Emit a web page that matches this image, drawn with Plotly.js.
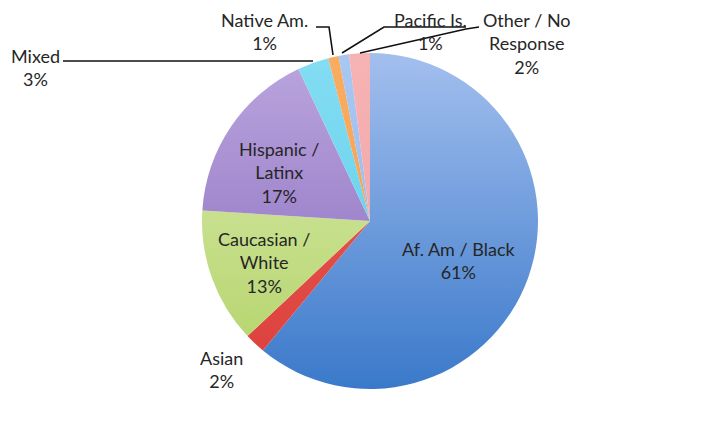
<!DOCTYPE html>
<html>
<head>
<meta charset="utf-8">
<script src="https://cdn.plot.ly/plotly-3.0.1.min.js"></script>
<style>
  html, body { margin: 0; padding: 0; background: #ffffff; }
  #chart { width: 717px; height: 424px; }
</style>
</head>
<body>
<div id="chart"></div>
<script>
// ---- data ----
var categories = ['Af. Am / Black', 'Asian', 'Caucasian / White', 'Hispanic / Latinx', 'Mixed', 'Native Am.', 'Pacific Is.', 'Other / No Response'];
var labelLines = ['Af. Am / Black', 'Asian', 'Caucasian /<br>White', 'Hispanic /<br>Latinx', 'Mixed', 'Native Am.', 'Pacific Is.', 'Other / No<br>Response'];
var percents = [61, 2, 13, 17, 3, 1, 1, 2];

// ---- styles ----
var sliceColors = ['#6d9de0', '#e24c46', '#c9e190', '#a088cf', '#6ed6f0', '#f8a65a', '#a4c3f1', '#f5aeb0'];
var gradTop     = ['#a3bfee', '#ea625c', '#dcedb3', '#bba6de', '#84ddf3', '#f9ad62', '#a9c7f2', '#f6b3b4'];
var gradBottom  = ['#3a79ca', '#dc3e3a', '#b2d266', '#8566bb', '#55cbe9', '#f59a48', '#8fb4ec', '#f0a0a2'];

var W = 717, H = 424;
function px(x) { return x / W; }
function py(y) { return 1 - y / H; }

// label block centres (pixels)
var labelPos = [[458, 260], [222, 369], [264, 262], [279, 172], [35, 68], [264, 32], [431, 32], [527, 44]];

// leader lines (pixels)
var leaders = [
  [[63, 61], [313, 61]],
  [[316, 27], [329, 27], [333, 55]],
  [[342, 53], [384, 27], [466, 27]],
  [[360, 53], [466, 29], [479, 27]]
];

var trace = {
  type: 'pie',
  labels: categories,
  values: percents,
  sort: false,
  direction: 'clockwise',
  rotation: 0,
  textinfo: 'none',
  hoverinfo: 'skip',
  marker: { colors: sliceColors, line: { width: 0 } },
  domain: { x: [px(202), px(538)], y: [py(389), py(53)] },
  showlegend: false
};

var annotations = categories.map(function (c, i) {
  return {
    xref: 'paper', yref: 'paper',
    x: px(labelPos[i][0]), y: py(labelPos[i][1]),
    xanchor: 'center', yanchor: 'middle',
    text: labelLines[i] + '<br>' + percents[i] + '%',
    showarrow: false,
    align: 'center',
    font: { family: 'Lato, "Noto Sans", sans-serif', size: 18, color: '#262626' }
  };
});

var shapes = [];
leaders.forEach(function (pts) {
  var d = pts.map(function (p, k) {
    return (k === 0 ? 'M' : 'L') + px(p[0]).toFixed(5) + ',' + py(p[1]).toFixed(5);
  }).join(' ');
  shapes.push({ type: 'path', xref: 'paper', yref: 'paper', path: d, line: { color: '#111111', width: 1.6 } });
});

var layout = {
  width: W, height: H,
  margin: { l: 0, r: 0, t: 0, b: 0 },
  paper_bgcolor: '#ffffff',
  plot_bgcolor: '#ffffff',
  annotations: annotations,
  shapes: shapes,
  showlegend: false
};

Plotly.newPlot('chart', [trace], layout, { displayModeBar: false, staticPlot: true }).then(function (gd) {
  try {
    var svg = gd.querySelector('.main-svg');
    var traceG = gd.querySelector('.pielayer .trace');
    if (!svg || !traceG) return;
    var bb = traceG.getBBox();
    var ns = 'http://www.w3.org/2000/svg';
    var defs = svg.querySelector('defs') || svg.insertBefore(document.createElementNS(ns, 'defs'), svg.firstChild);
    var paths = traceG.querySelectorAll('.slice path.surface');
    paths.forEach(function (p, i) {
      var g = document.createElementNS(ns, 'linearGradient');
      g.setAttribute('id', 'sliceGrad' + i);
      g.setAttribute('gradientUnits', 'userSpaceOnUse');
      g.setAttribute('x1', 0); g.setAttribute('x2', 0);
      g.setAttribute('y1', bb.y); g.setAttribute('y2', bb.y + bb.height);
      var s1 = document.createElementNS(ns, 'stop');
      s1.setAttribute('offset', '0'); s1.setAttribute('stop-color', gradTop[i]);
      var s2 = document.createElementNS(ns, 'stop');
      s2.setAttribute('offset', '1'); s2.setAttribute('stop-color', gradBottom[i]);
      g.appendChild(s1); g.appendChild(s2);
      defs.appendChild(g);
      p.style.fill = 'url(#sliceGrad' + i + ')';
    });
  } catch (e) {}
});
</script>
</body>
</html>
